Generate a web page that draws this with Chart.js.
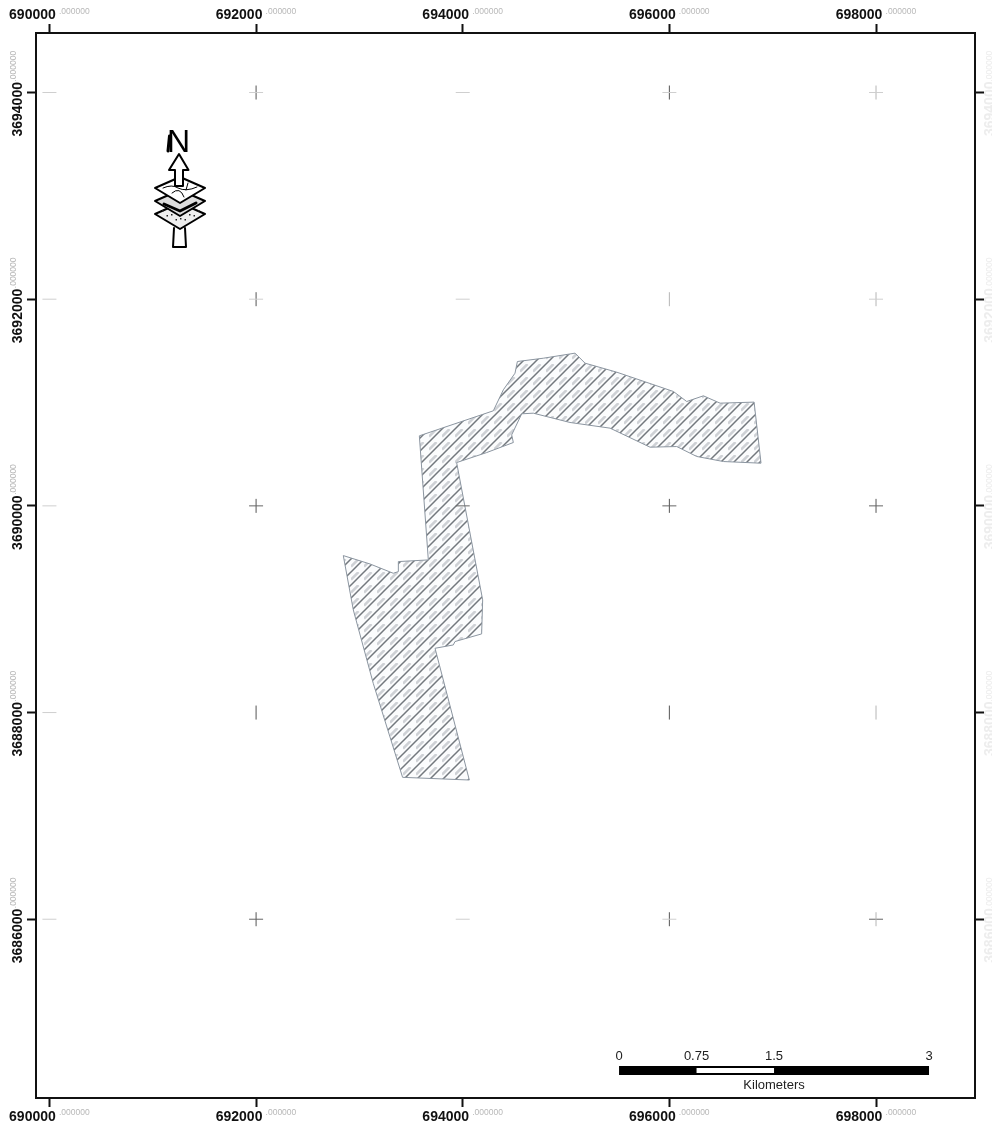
<!DOCTYPE html>
<html>
<head>
<meta charset="utf-8">
<title>Map</title>
<script src="https://cdn.jsdelivr.net/npm/chart.js@4/dist/chart.umd.min.js"></script>
<style>
  body { margin: 0; background: #fff; }
  canvas { display: block; }
</style>
</head>
<body>
<canvas id="map" width="992" height="1122"></canvas>
<script>
// Map extent and grid
const eastMin = 689870, eastMax = 698958;
const northMin = 3684270, northMax = 3694576;
const eastTickValues = [690000, 692000, 694000, 696000, 698000];
const northTickValues = [3686000, 3688000, 3690000, 3692000, 3694000];

// Hatched area outline (easting / northing)
const areaEast = [692844, 693102, 693328, 693377, 693377, 693667, 693580, 694296, 694393, 694506,
  694529, 694780, 695087, 695184, 695490, 696039, 696168, 696329, 696491, 696820,
  696887, 696523, 696265, 696071, 695813, 695426, 695038, 694683, 694571, 694474,
  694490, 694232, 693941, 694193, 694183, 693925, 693909, 693732, 694064, 693418,
  693134, 692941, 692844];
const areaNorth = [3689519, 3689438, 3689348, 3689364, 3689461, 3689477, 3690678, 3690920, 3691123, 3691284,
  3691397, 3691429, 3691478, 3691381, 3691294, 3691107, 3691010, 3691065, 3690994, 3691004,
  3690413, 3690429, 3690478, 3690574, 3690568, 3690752, 3690807, 3690897, 3690891, 3690687,
  3690613, 3690516, 3690419, 3689090, 3688761, 3688687, 3688654, 3688622, 3687347, 3687373,
  3688283, 3688993, 3689519];

// Graticule crosses: horizontal and vertical strokes, dark and faint
const hDarkEast = [692000, 694000, 696000, 698000, 692000, 698000];
const hDarkNorth = [3690000, 3690000, 3690000, 3690000, 3686000, 3686000];
const hFaintEast = [690000, 690000, 690000, 690000, 690000, 692000, 692000, 694000, 694000, 694000, 696000, 696000, 698000, 698000];
const hFaintNorth = [3694000, 3692000, 3690000, 3688000, 3686000, 3694000, 3692000, 3694000, 3692000, 3686000, 3694000, 3686000, 3694000, 3692000];
const vDarkEast = [692000, 692000, 692000, 692000, 692000, 696000, 696000, 696000, 696000, 698000];
const vDarkNorth = [3694000, 3692000, 3690000, 3688000, 3686000, 3694000, 3690000, 3688000, 3686000, 3690000];
const vFaintEast = [696000, 698000, 698000, 698000, 698000];
const vFaintNorth = [3692000, 3694000, 3692000, 3688000, 3686000];

// Scale bar
const barKm = [0, 0.75, 1.5, 3];
const barLabels = ['0', '0.75', '1.5', '3'];
const barUnit = 'Kilometers';
const barStartEast = 695513;
const barNorth = 3684536;
const tickSuffix = '.000000';

const pairs = (xs, ys) => xs.map((x, i) => ({ x, y: ys[i] }));
const barEast = km => barStartEast + km * 1000;

function hatchPattern() {
  const size = 13;
  const t = document.createElement('canvas');
  t.width = t.height = size;
  const c = t.getContext('2d');
  c.fillStyle = '#fbfcfd';
  c.fillRect(0, 0, size, size);
  // faint broken band between the dark lines
  c.strokeStyle = '#ced1d5';
  c.lineWidth = 2.5;
  c.beginPath();
  c.moveTo(0, 7.5);
  c.lineTo(7.5, 0);
  c.stroke();
  // dark hatch lines
  c.strokeStyle = '#73787e';
  c.lineWidth = 1.5;
  c.beginPath();
  c.moveTo(-2, size + 2);
  c.lineTo(size + 2, -2);
  c.moveTo(-2, 2);
  c.lineTo(2, -2);
  c.moveTo(size - 2, size + 2);
  c.lineTo(size + 2, size - 2);
  c.stroke();
  return c.createPattern(t, 'repeat');
}

const markDataset = (data, color, rotation) => ({
  data,
  showLine: false,
  order: 5,
  pointStyle: 'line',
  pointRadius: 7,
  pointRotation: rotation,
  pointBorderColor: color,
  pointBorderWidth: 1
});

// Faint decimals beside each coordinate label, and the scale bar text
const mapText = {
  id: 'mapText',
  afterDraw(chart) {
    const ctx = chart.ctx;
    const { x, y } = chart.scales;
    ctx.save();
    ctx.font = '8.5px "Liberation Sans", Arial, sans-serif';
    ctx.textBaseline = 'middle';
    ctx.textAlign = 'left';
    ctx.fillStyle = '#b8b8b8';
    x.ticks.forEach((t, i) => {
      const px = x.getPixelForTick(i) + 9.5;
      ctx.fillText(tickSuffix, px, 12);
      ctx.fillText(tickSuffix, px, 1113);
    });
    y.ticks.forEach((t, i) => {
      const py = y.getPixelForTick(i) - 11;
      ctx.save();
      ctx.translate(14, py);
      ctx.rotate(-Math.PI / 2);
      ctx.fillText(tickSuffix, 0, 0);
      ctx.restore();
      ctx.save();
      ctx.fillStyle = '#ededed';
      ctx.translate(990, py);
      ctx.rotate(-Math.PI / 2);
      ctx.fillText(tickSuffix, 0, 0);
      ctx.restore();
    });

    ctx.font = '13px "Liberation Sans", Arial, sans-serif';
    ctx.textAlign = 'center';
    ctx.fillStyle = '#222';
    const labelY = y.getPixelForValue(barNorth) - 14.5;
    barKm.forEach((km, i) => ctx.fillText(barLabels[i], x.getPixelForValue(barEast(km)), labelY));
    ctx.fillText(barUnit, x.getPixelForValue(barEast(1.5)), y.getPixelForValue(barNorth) + 14.5);
    ctx.restore();
  }
};

// Hand drawn north arrow, a picture rather than data
const northArrow = {
  id: 'northArrow',
  afterDraw(chart) {
    const ctx = chart.ctx;
    ctx.save();
    ctx.lineJoin = 'round';
    ctx.lineCap = 'round';
    ctx.fillStyle = '#000';
    ctx.textAlign = 'center';
    ctx.textBaseline = 'alphabetic';
    ctx.font = '32px "Liberation Sans", Arial, sans-serif';
    ctx.fillText('N', 178.5, 152);
    ctx.strokeStyle = '#000';
    ctx.lineWidth = 3;
    ctx.beginPath();
    ctx.moveTo(169.5, 136);
    ctx.lineTo(168, 151);
    ctx.stroke();

    // tail
    ctx.lineWidth = 2;
    ctx.beginPath();
    ctx.moveTo(174, 228);
    ctx.lineTo(173, 247);
    ctx.lineTo(186, 247);
    ctx.lineTo(185, 228);
    ctx.stroke();

    const diamond = (cy, fill) => {
      ctx.beginPath();
      ctx.moveTo(155, cy);
      ctx.lineTo(180, cy - 11);
      ctx.lineTo(205, cy);
      ctx.lineTo(180, cy + 15);
      ctx.closePath();
      ctx.fillStyle = fill;
      ctx.fill();
      ctx.lineWidth = 2;
      ctx.stroke();
    };
    diamond(214, '#eee');
    ctx.fillStyle = '#222';
    for (let i = 0; i < 9; i++) {
      ctx.fillRect(162 + i * 4.5, 214 + (i % 2) * 3 + (i > 4 ? (8 - i) * 2 : i * 2) - 4, 1.5, 1.5);
    }
    diamond(201, '#ddd');
    ctx.lineWidth = 3;
    ctx.beginPath();
    ctx.moveTo(164, 204);
    ctx.lineTo(180, 211);
    ctx.lineTo(196, 203);
    ctx.stroke();
    diamond(188, '#fff');
    ctx.lineWidth = 1;
    ctx.beginPath();
    ctx.moveTo(163, 188);
    ctx.quadraticCurveTo(172, 184, 178, 188);
    ctx.quadraticCurveTo(186, 192, 197, 187);
    ctx.moveTo(172, 193);
    ctx.quadraticCurveTo(180, 186, 184, 197);
    ctx.moveTo(188, 183);
    ctx.lineTo(186, 190);
    ctx.stroke();

    // arrow
    ctx.lineWidth = 2;
    ctx.fillStyle = '#fff';
    ctx.beginPath();
    ctx.moveTo(179, 154);
    ctx.lineTo(188.5, 170);
    ctx.lineTo(183, 170);
    ctx.lineTo(183, 186);
    ctx.lineTo(175, 186);
    ctx.lineTo(175, 170);
    ctx.lineTo(169, 170);
    ctx.closePath();
    ctx.fill();
    ctx.stroke();
    ctx.restore();
  }
};

const setTicks = values => s => { s.ticks = values.map(value => ({ value })); };

const eastTicks = {
  autoSkip: false, maxRotation: 0,
  callback: v => String(v),
  font: { family: '"Liberation Sans", Arial, sans-serif', size: 14, weight: 'bold' },
  color: '#111',
  labelOffset: -17,
  padding: 2
};
const northTicks = {
  autoSkip: false, minRotation: 90, maxRotation: 90,
  callback: v => String(v),
  font: { family: '"Liberation Sans", Arial, sans-serif', size: 14, weight: 'bold' },
  color: '#111'
};
const axisGrid = { drawOnChartArea: false, tickLength: 9, tickWidth: 2, tickColor: '#111' };
const axisBorder = { width: 2, color: '#111' };

new Chart(document.getElementById('map').getContext('2d'), {
  type: 'line',
  data: {
    datasets: [
      {
        data: pairs(areaEast, areaNorth),
        order: 10,
        fill: 'shape',
        backgroundColor: hatchPattern(),
        borderColor: '#8b95a0',
        borderWidth: 1,
        pointRadius: 0,
        tension: 0
      },
      markDataset(pairs(hFaintEast, hFaintNorth), '#cfcfcf', 0),
      markDataset(pairs(vFaintEast, vFaintNorth), '#b5b5b5', 90),
      markDataset(pairs(hDarkEast, hDarkNorth), '#666', 0),
      markDataset(pairs(vDarkEast, vDarkNorth), '#555', 90),
      {
        data: pairs([barEast(barKm[0]), barEast(barKm[3])], [barNorth, barNorth]),
        order: 2,
        borderColor: '#000',
        borderWidth: 9,
        pointRadius: 0
      },
      {
        data: pairs([barEast(barKm[1]), barEast(barKm[2])], [barNorth, barNorth]),
        order: 1,
        borderColor: '#fff',
        borderWidth: 5,
        pointRadius: 0
      }
    ]
  },
  options: {
    responsive: false,
    animation: false,
    plugins: { legend: { display: false }, tooltip: { enabled: false } },
    layout: { padding: 0 },
    scales: {
      x: {
        type: 'linear', position: 'bottom', min: eastMin, max: eastMax,
        ticks: eastTicks, grid: axisGrid, border: axisBorder,
        afterBuildTicks: setTicks(eastTickValues),
        afterFit: s => { s.height = 24; }
      },
      x2: {
        type: 'linear', position: 'top', min: eastMin, max: eastMax,
        ticks: { ...eastTicks, padding: 0 }, grid: axisGrid, border: axisBorder,
        afterBuildTicks: setTicks(eastTickValues),
        afterFit: s => { s.height = 33; }
      },
      y: {
        type: 'linear', position: 'left', min: northMin, max: northMax,
        ticks: { ...northTicks, padding: 9, labelOffset: -10.5 }, grid: axisGrid, border: axisBorder,
        afterBuildTicks: setTicks(northTickValues),
        afterFit: s => { s.width = 36; }
      },
      y2: {
        type: 'linear', position: 'right', min: northMin, max: northMax,
        ticks: { ...northTicks, color: '#ededed', padding: 6, labelOffset: 43.5 }, grid: axisGrid, border: axisBorder,
        afterBuildTicks: setTicks(northTickValues),
        afterFit: s => { s.width = 17; }
      }
    }
  },
  plugins: [mapText, northArrow]
});
</script>
</body>
</html>
